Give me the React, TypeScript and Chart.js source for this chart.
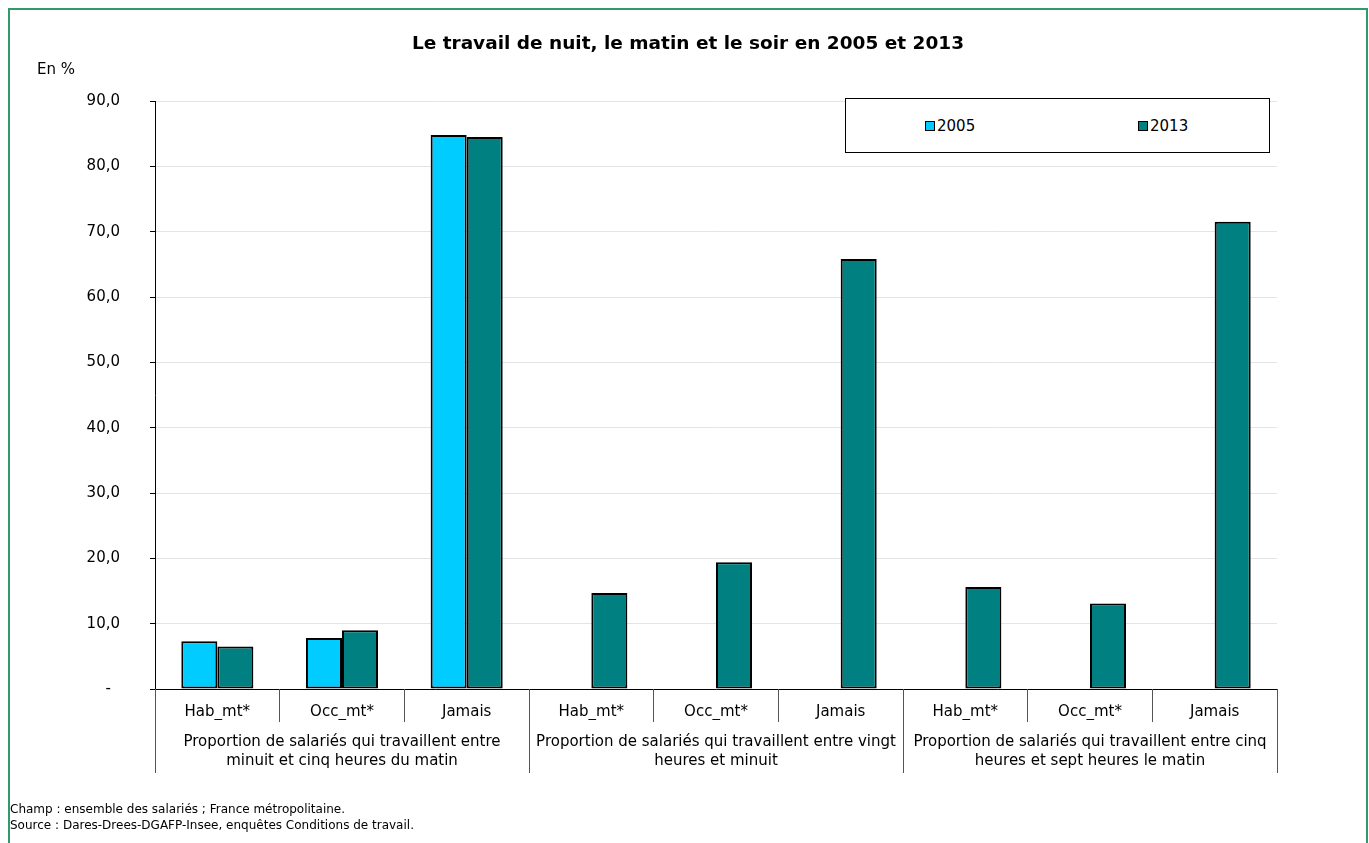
import React, { useEffect, useRef } from 'react';
import { Chart, registerables } from 'chart.js';

Chart.register(...registerables);

const titleText = 'Le travail de nuit, le matin et le soir en 2005 et 2013';
const unitText = 'En %';
const footerLines = [
  'Champ : ensemble des salariés ; France métropolitaine.',
  'Source : Dares-Drees-DGAFP-Insee, enquêtes Conditions de travail.',
];

const subLabels = [
  'Hab_mt*', 'Occ_mt*', 'Jamais',
  'Hab_mt*', 'Occ_mt*', 'Jamais',
  'Hab_mt*', 'Occ_mt*', 'Jamais',
];

const groupLabels = [
  ['Proportion de salariés qui travaillent entre', 'minuit et cinq heures du matin'],
  ['Proportion de salariés qui travaillent entre vingt', 'heures et minuit'],
  ['Proportion de salariés qui travaillent entre cinq', 'heures et sept heures le matin'],
];

const seriesNames = ['2005', '2013'];
const values2005 = [7.3, 7.8, 84.8, null, null, null, null, null, null];
const values2013 = [6.5, 9.0, 84.5, 14.7, 19.4, 65.8, 15.6, 13.1, 71.5];

const yMin = 0;
const yMax = 90;
const yStep = 10;

const COLOR_2005 = '#00CCFF';
const COLOR_2013 = '#008080';
const FONT = '"DejaVu Sans", Verdana, sans-serif';

const separatorPlugin = {
  id: 'separators',
  afterDraw(chart: any) {
    const xs = chart.scales.x;
    const ctx = chart.ctx;
    const top = xs.top;
    const n = subLabels.length;
    ctx.save();
    ctx.strokeStyle = '#555555';
    ctx.lineWidth = 1;
    for (let i = 0; i <= n; i++) {
      const px = Math.floor(xs.getPixelForValue(i - 0.5)) + 0.5;
      const len = i % 3 === 0 ? 84 : 33;
      ctx.beginPath();
      ctx.moveTo(px, top);
      ctx.lineTo(px, top + len);
      ctx.stroke();
    }
    ctx.restore();
  },
};

export default function App() {
  const ref = useRef<HTMLCanvasElement>(null);

  useEffect(() => {
    Chart.defaults.font.family = FONT;
    const chart = new Chart(ref.current as HTMLCanvasElement, {
      type: 'bar',
      data: {
        labels: subLabels,
        datasets: [
          {
            label: seriesNames[0],
            data: values2005,
            backgroundColor: COLOR_2005,
            borderColor: '#000000',
            borderWidth: 2,
            borderSkipped: false,
          },
          {
            label: seriesNames[1],
            data: values2013,
            backgroundColor: COLOR_2013,
            borderColor: '#000000',
            borderWidth: 2,
            borderSkipped: false,
          },
        ],
      },
      options: {
        responsive: false,
        animation: false,
        events: [],
        categoryPercentage: 0.578,
        barPercentage: 1,
        layout: { padding: { top: 91, right: 89, bottom: 70, left: 0 } },
        plugins: {
          legend: { display: false },
          title: { display: false },
          tooltip: { enabled: false },
        },
        scales: {
          x: {
            type: 'category',
            position: 'bottom',
            weight: 0,
            offset: true,
            grid: { display: false, drawTicks: false, tickLength: 0 },
            border: { display: true, color: '#000000', width: 1 },
            ticks: {
              autoSkip: false,
              maxRotation: 0,
              minRotation: 0,
              padding: 14,
              color: '#000000',
              font: { family: FONT, size: 15 },
            },
            afterFit: (scale: any) => {
              scale.height = 31;
            },
          },
          x2: {
            type: 'category',
            position: 'bottom',
            weight: 1,
            offset: true,
            labels: groupLabels as any,
            grid: { display: false, drawTicks: false, tickLength: 0 },
            border: { display: false },
            ticks: {
              autoSkip: false,
              maxRotation: 0,
              minRotation: 0,
              padding: 13,
              color: '#000000',
              font: { family: FONT, size: 15, lineHeight: 1.25 },
            },
            afterFit: (scale: any) => {
              scale.height = 53;
            },
          },
          y: {
            type: 'linear',
            min: yMin,
            max: yMax,
            grid: {
              display: true,
              drawTicks: true,
              tickLength: 5,
              color: '#e4e4e4',
              tickColor: '#000000',
              lineWidth: 1,
            },
            border: { display: true, color: '#000000', width: 1 },
            ticks: {
              stepSize: yStep,
              padding: 30,
              color: '#000000',
              font: { family: FONT, size: 15 },
              callback: (v: any) =>
                Number(v) === 0 ? '-\u2009\u2009\u2009' : Number(v).toFixed(1).replace('.', ','),
            },
            afterFit: (scale: any) => {
              scale.width = 145;
            },
          },
        },
      },
      plugins: [separatorPlugin],
    } as any);
    return () => chart.destroy();
  }, []);

  const textBase: React.CSSProperties = {
    position: 'absolute',
    fontFamily: FONT,
    color: '#000',
    whiteSpace: 'nowrap',
  };

  return (
    <div
      style={{
        position: 'fixed',
        left: 8,
        top: 8,
        width: 1360,
        height: 835,
        boxSizing: 'border-box',
        border: '2px solid #339966',
        borderBottom: 'none',
        background: '#fff',
      }}
    >
      <canvas
        ref={ref}
        width={1356}
        height={833}
        style={{ position: 'absolute', left: 0, top: 0, display: 'block' }}
      />
      <div
        style={{
          ...textBase,
          left: 0,
          top: 22,
          width: 1356,
          textAlign: 'center',
          fontWeight: 'bold',
          fontSize: 18.5,
          lineHeight: '22px',
        }}
      >
        {titleText}
      </div>
      <div style={{ ...textBase, left: 27, top: 50, fontSize: 15, lineHeight: '18px' }}>{unitText}</div>
      <div
        style={{
          position: 'absolute',
          left: 835,
          top: 88,
          width: 425,
          height: 55,
          boxSizing: 'border-box',
          border: '1px solid #000',
          background: '#fff',
        }}
      >
        <div
          style={{
            position: 'absolute',
            left: 79,
            top: 22,
            width: 10,
            height: 10,
            boxSizing: 'border-box',
            border: '1px solid #000',
            background: COLOR_2005,
          }}
        />
        <div style={{ ...textBase, left: 91, top: 18, fontSize: 15, lineHeight: '18px' }}>{seriesNames[0]}</div>
        <div
          style={{
            position: 'absolute',
            left: 292,
            top: 22,
            width: 10,
            height: 10,
            boxSizing: 'border-box',
            border: '1px solid #000',
            background: COLOR_2013,
          }}
        />
        <div style={{ ...textBase, left: 304, top: 18, fontSize: 15, lineHeight: '18px' }}>{seriesNames[1]}</div>
      </div>
      <div style={{ ...textBase, left: 0, top: 791, fontSize: 12, lineHeight: '16px' }}>
        {footerLines.map((l, i) => (
          <div key={i}>{l}</div>
        ))}
      </div>
    </div>
  );
}
